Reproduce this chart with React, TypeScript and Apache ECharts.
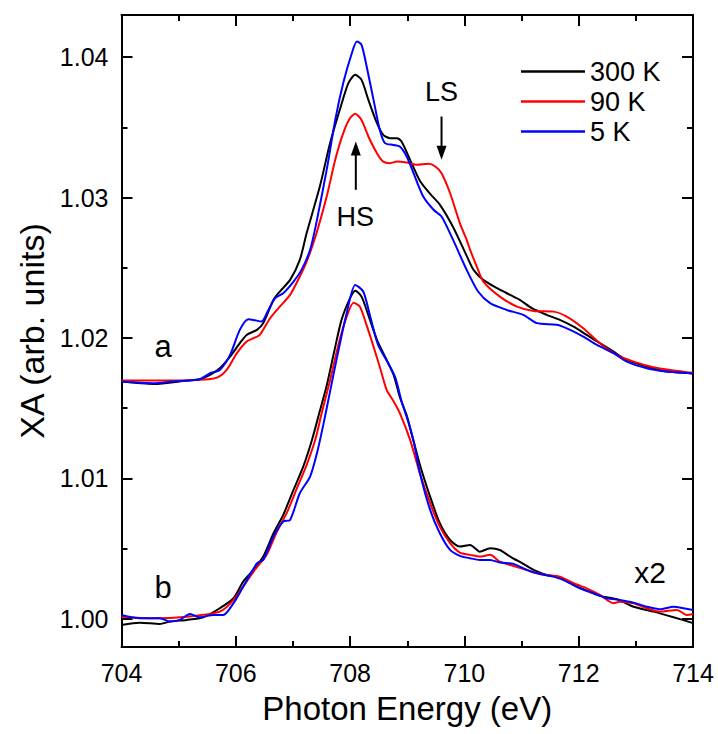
import React, { useEffect, useRef } from "react";
import * as echarts from "echarts";

const FONT = "'Liberation Sans', Arial, Helvetica, sans-serif";

// Photon energy (eV), XA (arb. units) — upper set "a"
const a300: number[][] = [
  [704.0, 1.0169], [704.56, 1.01673], [705.14, 1.01697], [705.37, 1.01707], [705.55, 1.01738],
  [705.72, 1.01785], [705.9, 1.01868], [706.07, 1.01963], [706.19, 1.02022], [706.37, 1.02058],
  [706.48, 1.02106], [706.66, 1.02272], [706.77, 1.02331], [706.95, 1.02414], [707.12, 1.02556],
  [707.24, 1.02747], [707.47, 1.03078], [707.65, 1.03388], [707.82, 1.03625], [707.97, 1.03815],
  [708.09, 1.03874], [708.2, 1.03838], [708.32, 1.03696], [708.47, 1.0353], [708.58, 1.03447],
  [708.7, 1.03423], [708.82, 1.03423], [708.9, 1.03399], [709.05, 1.03269], [709.22, 1.0312],
  [709.4, 1.03027], [709.57, 1.0295], [709.81, 1.02784], [710.04, 1.02585], [710.16, 1.02485],
  [710.33, 1.02414], [710.57, 1.02355], [710.8, 1.02307], [710.97, 1.02272], [711.18, 1.02213],
  [711.44, 1.02165], [711.67, 1.02129], [711.91, 1.02081], [712.14, 1.02022], [712.37, 1.01963],
  [712.61, 1.01903], [712.84, 1.01844], [713.19, 1.01797], [713.54, 1.01761], [713.95, 1.0175],
  [714.0, 1.01748],
];
const a90: number[][] = [
  [704.0, 1.01697], [704.56, 1.01697], [705.37, 1.01702], [705.67, 1.01718], [705.84, 1.01773],
  [706.02, 1.01892], [706.19, 1.01975], [706.31, 1.01999], [706.42, 1.02022], [706.6, 1.02141],
  [706.77, 1.02224], [706.95, 1.02307], [707.12, 1.02438], [707.24, 1.02544], [707.4, 1.0273],
  [707.59, 1.03007], [707.74, 1.03269], [707.88, 1.03459], [708.0, 1.03566], [708.09, 1.03596],
  [708.2, 1.03553], [708.32, 1.03435], [708.47, 1.03316], [708.58, 1.03256], [708.7, 1.03245],
  [708.82, 1.03256], [708.99, 1.03249], [709.17, 1.03233], [709.37, 1.0324], [709.49, 1.03221],
  [709.6, 1.03174], [709.75, 1.03031], [709.92, 1.02818], [710.04, 1.02699], [710.1, 1.02628],
  [710.24, 1.02485], [710.33, 1.02402], [710.62, 1.02295], [710.92, 1.02224], [711.21, 1.02193],
  [711.56, 1.02188], [711.79, 1.02153], [712.08, 1.0207], [712.37, 1.01963], [712.67, 1.0188],
  [712.96, 1.01832], [713.31, 1.01792], [713.66, 1.01768], [713.95, 1.01754], [714.0, 1.01752],
];
const a5: number[][] = [
  [704.0, 1.0169], [704.56, 1.01678], [704.88, 1.0169], [705.37, 1.01707], [705.55, 1.0175],
  [705.72, 1.01773], [705.9, 1.0188], [706.07, 1.02058], [706.22, 1.02134], [706.31, 1.02129],
  [706.45, 1.02117], [706.57, 1.022], [706.69, 1.02284], [706.83, 1.02319], [707.01, 1.02402],
  [707.15, 1.02485], [707.3, 1.02628], [707.4, 1.028], [707.59, 1.03197], [707.74, 1.03553],
  [707.88, 1.03815], [708.03, 1.04028], [708.12, 1.04111], [708.2, 1.04088], [708.29, 1.03933],
  [708.41, 1.03696], [708.52, 1.03482], [708.61, 1.03388], [708.76, 1.03375], [708.87, 1.03363],
  [708.99, 1.03292], [709.11, 1.03174], [709.28, 1.03007], [709.46, 1.02913], [709.6, 1.02865],
  [709.81, 1.02692], [710.04, 1.02485], [710.24, 1.02331], [710.45, 1.02248], [710.74, 1.022],
  [711.03, 1.02165], [711.27, 1.02106], [711.62, 1.02094], [711.85, 1.02058], [712.08, 1.0201],
  [712.32, 1.01951], [712.61, 1.01892], [712.84, 1.01832], [713.19, 1.01785], [713.54, 1.01761],
  [713.95, 1.0175], [714.0, 1.01748],
];

// lower set "b" (x2)
const b300: number[][] = [
  [704.0, 0.99957], [704.32, 0.99973], [704.67, 0.99964], [704.85, 0.99981], [705.14, 0.99993],
  [705.43, 1.00012], [705.72, 1.00076], [705.96, 1.00147], [706.13, 1.00266], [706.31, 1.00349],
  [706.48, 1.00444], [706.66, 1.0061], [706.83, 1.0074], [707.01, 1.00919], [707.18, 1.01084],
  [707.33, 1.0127], [707.47, 1.0148], [707.59, 1.0166], [707.72, 1.019], [707.85, 1.02129],
  [708.0, 1.02284], [708.09, 1.02336], [708.2, 1.02295], [708.33, 1.0215], [708.47, 1.01987],
  [708.62, 1.0186], [708.76, 1.0174], [708.87, 1.0158], [708.99, 1.0145], [709.05, 1.0136],
  [709.22, 1.011], [709.4, 1.00871], [709.57, 1.00681], [709.75, 1.00562],
  [709.92, 1.00515], [710.1, 1.00527], [710.27, 1.00479], [710.45, 1.00503], [710.62, 1.00491],
  [710.8, 1.00444], [711.03, 1.00392], [711.21, 1.00349], [711.44, 1.00313], [711.67, 1.00297],
  [711.91, 1.00242], [712.14, 1.00201], [712.37, 1.00164], [712.67, 1.0014], [712.96, 1.00087],
  [713.31, 1.00052], [713.66, 1.00012], [714.0, 0.9997],
];
const b90: number[][] = [
  [704.0, 1.00016], [704.56, 1.00005], [705.14, 1.00016], [705.72, 1.00052], [705.96, 1.00135],
  [706.31, 1.00337], [706.54, 1.00456], [706.72, 1.00622], [706.89, 1.00753], [707.07, 1.00931],
  [707.24, 1.01097], [707.39, 1.01275], [707.5, 1.0146], [707.65, 1.017], [707.8, 1.0196],
  [707.93, 1.0214], [708.06, 1.02252], [708.17, 1.02224], [708.29, 1.0209], [708.41, 1.01939],
  [708.53, 1.0178], [708.64, 1.01631], [708.76, 1.0155], [708.87, 1.01465],
  [709.05, 1.01275], [709.22, 1.01037], [709.4, 1.00824], [709.57, 1.00657], [709.75, 1.00539],
  [709.92, 1.00472], [710.1, 1.00456], [710.27, 1.00444], [710.45, 1.00456], [710.62, 1.00408],
  [710.86, 1.00377], [711.09, 1.00349], [711.21, 1.0033], [711.44, 1.00313], [711.67, 1.00301],
  [711.91, 1.00254], [712.14, 1.00218], [712.37, 1.00171], [712.61, 1.00112], [712.72, 1.00123],
  [712.96, 1.00112], [713.19, 1.00076], [713.42, 1.00052], [713.72, 1.00064], [713.89, 1.00028],
  [714.0, 1.00035],
];
const b5: number[][] = [
  [704.0, 1.00028], [704.32, 1.00005], [704.67, 1.00005], [704.85, 0.99981], [705.02, 0.99993],
  [705.2, 1.00035], [705.37, 1.00012], [705.61, 1.00028], [705.78, 1.00028], [705.96, 1.00112],
  [706.13, 1.0023], [706.37, 1.00396], [706.48, 1.0042], [706.66, 1.00586], [706.83, 1.00693],
  [706.95, 1.00705], [707.12, 1.00895], [707.3, 1.01013], [707.42, 1.0118], [707.53, 1.0138],
  [707.65, 1.0162], [707.78, 1.0188], [707.94, 1.02177], [708.09, 1.02378], [708.23, 1.02331],
  [708.36, 1.0214], [708.49, 1.01951], [708.64, 1.0184], [708.79, 1.0172], [708.9, 1.0155],
  [709.02, 1.014], [709.12, 1.0125], [709.22, 1.0104],
  [709.4, 1.00776], [709.57, 1.0061], [709.75, 1.00491], [709.92, 1.00449], [710.1, 1.00432],
  [710.27, 1.0042], [710.45, 1.0042], [710.62, 1.00401], [710.86, 1.00392], [711.09, 1.00349],
  [711.32, 1.0032], [711.56, 1.00301], [711.79, 1.00266], [712.02, 1.00218], [712.26, 1.00183],
  [712.49, 1.00147], [712.72, 1.00135], [712.96, 1.00116], [713.19, 1.00087], [713.42, 1.00069],
  [713.66, 1.00087], [713.83, 1.00076], [714.0, 1.00064],
];

const seriesNames = ["300 K", "90 K", "5 K"];
const seriesColors = ["#000000", "#ff0000", "#0000ff"];
const yMajorTicks = [1.0, 1.01, 1.02, 1.03, 1.04];
const yMinorTicks = [1.005, 1.015, 1.025, 1.035];

// annotations in data coordinates
const labelA = { text: "a", x: 704.73, y: 1.01937 };
const labelB = { text: "b", x: 704.73, y: 1.00221 };
const labelX2 = { text: "x2", x: 713.25, y: 1.00327 };
const labelHS = { text: "HS", x: 708.09, y: 1.02865 };
const labelLS = { text: "LS", x: 709.6, y: 1.03755 };
const arrowHS = { x: 708.1, from: 1.03055, to: 1.03399 };
const arrowLS = { x: 709.6, from: 1.03577, to: 1.03269 };

const axisLineStyle = { color: "#000", width: 2 };

export default function App() {
  const ref = useRef<HTMLDivElement>(null);
  useEffect(() => {
    const chart = echarts.init(ref.current!, null, { renderer: "svg" });
    const mkSeries = (name: string, color: string, data: number[][]) => ({
      type: "line",
      name,
      data,
      showSymbol: false,
      symbol: "none",
      smooth: 0.25,
      lineStyle: { color, width: 2 },
      itemStyle: { color },
      xAxisIndex: 0,
      yAxisIndex: 0,
    });
    const yBase = {
      type: "value",
      min: 0.998,
      max: 1.043,
      splitLine: { show: false },
      axisLine: { show: true, lineStyle: axisLineStyle },
    };
    const xBase = {
      type: "value",
      min: 704,
      max: 714,
      interval: 2,
      splitLine: { show: false },
      axisLine: { show: true, lineStyle: axisLineStyle },
      axisTick: { show: true, inside: true, length: 11, lineStyle: axisLineStyle },
      minorTick: { show: true, splitNumber: 2, length: 6, lineStyle: axisLineStyle },
      minorSplitLine: { show: false },
    };
    chart.setOption({
      animation: false,
      backgroundColor: "#fff",
      textStyle: { fontFamily: FONT },
      grid: { left: 121.5, right: 25, top: 15, bottom: 87, containLabel: false },
      legend: {
        orient: "vertical",
        left: 516,
        top: 53,
        data: seriesNames,
        icon: "rect",
        itemWidth: 64,
        itemHeight: 2.5,
        itemGap: 3,
        textStyle: { fontSize: 27, fontFamily: FONT, color: "#000", lineHeight: 26 },
      },
      xAxis: [
        {
          ...xBase,
          position: "bottom",
          name: "Photon Energy (eV)",
          nameLocation: "middle",
          nameGap: 45,
          nameTextStyle: { fontSize: 33, fontFamily: FONT, color: "#000" },
          axisLabel: { show: true, fontSize: 25, fontFamily: FONT, color: "#000", margin: 13 },
        },
        { ...xBase, position: "top", axisLabel: { show: false } },
      ],
      yAxis: [
        {
          ...yBase,
          position: "left",
          name: "XA (arb. units)",
          nameLocation: "middle",
          nameGap: 63,
          nameTextStyle: { fontSize: 34, fontFamily: FONT, color: "#000" },
          axisTick: { show: true, inside: true, length: 11, lineStyle: axisLineStyle, customValues: yMajorTicks },
          axisLabel: {
            show: true,
            fontSize: 25,
            fontFamily: FONT,
            color: "#000",
            margin: 13,
            customValues: yMajorTicks,
            formatter: (v: number) => v.toFixed(2),
          },
        },
        {
          ...yBase,
          position: "left",
          axisLine: { show: false },
          axisTick: { show: true, inside: true, length: 6, lineStyle: axisLineStyle, customValues: yMinorTicks },
          axisLabel: { show: false, customValues: yMinorTicks },
        },
        {
          ...yBase,
          position: "right",
          axisTick: { show: true, inside: true, length: 11, lineStyle: axisLineStyle, customValues: yMajorTicks },
          axisLabel: { show: false, customValues: yMajorTicks },
        },
        {
          ...yBase,
          position: "right",
          axisLine: { show: false },
          axisTick: { show: true, inside: true, length: 6, lineStyle: axisLineStyle, customValues: yMinorTicks },
          axisLabel: { show: false, customValues: yMinorTicks },
        },
      ],
      series: [
        mkSeries(seriesNames[0], seriesColors[0], a300),
        mkSeries(seriesNames[1], seriesColors[1], a90),
        mkSeries(seriesNames[2], seriesColors[2], a5),
        mkSeries(seriesNames[0], seriesColors[0], b300),
        mkSeries(seriesNames[1], seriesColors[1], b90),
        mkSeries(seriesNames[2], seriesColors[2], b5),
      ],
    });

    const px = (x: number, y: number) =>
      chart.convertToPixel({ xAxisIndex: 0, yAxisIndex: 0 }, [x, y]) as number[];
    const textEl = (l: { text: string; x: number; y: number }, size: number) => {
      const [x, y] = px(l.x, l.y);
      return {
        type: "text",
        x,
        y,
        silent: true,
        style: {
          text: l.text,
          fontSize: size,
          fontFamily: FONT,
          fill: "#000",
          align: "center",
          verticalAlign: "middle",
          textAlign: "center",
          textVerticalAlign: "middle",
        },
      };
    };
    const arrowEls = (a: { x: number; from: number; to: number }) => {
      const [x1, y1] = px(a.x, a.from);
      const [, y2] = px(a.x, a.to);
      const dir = y2 < y1 ? -1 : 1;
      const head = 14;
      const half = 5;
      return [
        {
          type: "line",
          silent: true,
          shape: { x1, y1, x2: x1, y2: y2 - dir * head * 0.7 },
          style: { stroke: "#000", lineWidth: 2 },
        },
        {
          type: "polygon",
          silent: true,
          shape: { points: [[x1, y2], [x1 - half, y2 - dir * head], [x1 + half, y2 - dir * head]] },
          style: { fill: "#000" },
        },
      ];
    };
    chart.setOption({
      graphic: [
        textEl(labelA, 31),
        textEl(labelB, 31),
        textEl(labelX2, 30),
        textEl(labelHS, 27),
        textEl(labelLS, 27),
        ...arrowEls(arrowHS),
        ...arrowEls(arrowLS),
      ],
    });
    return () => chart.dispose();
  }, []);
  return (
    <div
      ref={ref}
      style={{ position: "absolute", left: 0, top: 0, width: 718, height: 734, background: "#fff" }}
    />
  );
}
